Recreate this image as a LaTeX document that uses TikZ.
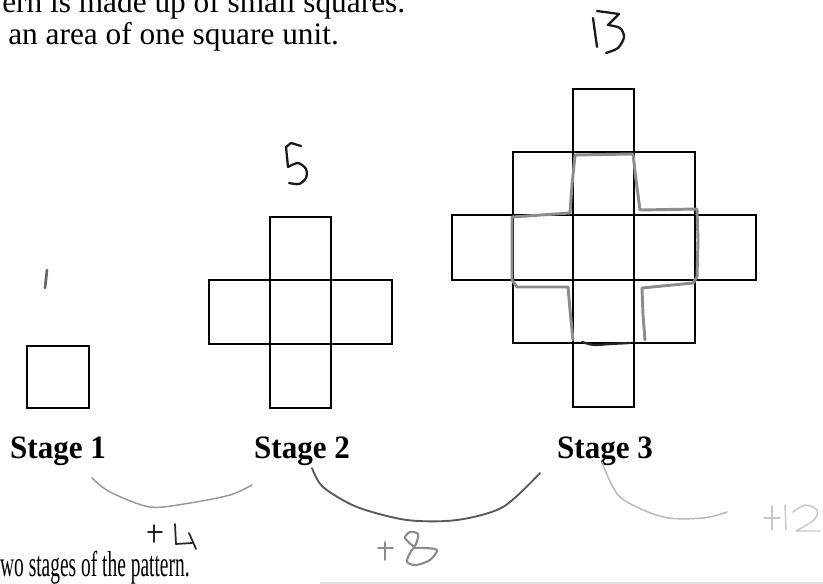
\documentclass[tikz,border=0pt]{standalone}
\usepackage{fontspec}
\setmainfont{Liberation Serif}
\begin{document}
\begin{tikzpicture}[x=0.75pt,y=-0.75pt,
  cell/.style={draw=black,line width=1.6pt},
  hand/.style={line width=1.7pt,line cap=round,line join=round},
  toptext/.style={anchor=base west,inner sep=0pt,font=\fontsize{23.5}{28}\selectfont},
  stagelbl/.style={anchor=base,inner sep=0pt,xscale=0.95,font=\fontsize{24.5}{28}\selectfont\bfseries},
  curveline/.style={line width=1.1pt,line cap=round}]
\useasboundingbox (0,0) rectangle (823,584);
\clip (0,0) rectangle (823,584);
% header text
\node[toptext] (t1) at (2,13) {ern is made up of small squares.};
\node[toptext] (t2) at (8,45) {an area of one square unit.};
\node[anchor=base west,inner sep=0pt,xscale=0.54,font=\fontsize{27}{30}\selectfont] (t3) at (0,576) {wo stages of the pattern.};
% stage 1
\draw[cell] (27,346) rectangle (89,408);
% stage 2
\draw[cell] (270,217) rectangle (331,280);
\draw[cell] (209,280) rectangle (270,344);
\draw[cell] (270,280) rectangle (331,344);
\draw[cell] (331,280) rectangle (392,344);
\draw[cell] (270,344) rectangle (331,408);
% stage 3
\draw[cell] (573,89) rectangle (634,152);
\foreach \a/\b in {513/573,573/634,634/695}{
  \draw[cell] (\a,152) rectangle (\b,215);
  \draw[cell] (\a,280) rectangle (\b,343);}
\foreach \a/\b in {452/513,513/573,573/634,634/695,695/756}{
  \draw[cell] (\a,215) rectangle (\b,280);}
\draw[cell] (573,343) rectangle (634,407);
% labels
\node[stagelbl] (s1) at (58,458) {Stage 1};
\node[stagelbl] (s2) at (302,458) {Stage 2};
\node[stagelbl] (s3) at (605,458) {Stage 3};
% gray contour on stage 3
\draw[hand,black!45,line width=2.2pt] (573,340) -- (570,310) -- (568,287) -- (517,287) -- (512,280) -- (512,217) -- (570,213) -- (572,185) -- (575,155) -- (633,154) -- (636,180) -- (640,210) -- (697,209) -- (698,240) -- (697,277) -- (693,283) -- (642,288) -- (643,315) -- (645,340);
\draw[hand,black!85] plot[smooth] coordinates {(582,342) (594,345) (610,344) (630,343)};
% handwritten numbers
\draw[hand,black!60,line width=2pt] (47,270) -- (45,288);
\draw[hand,black!90] (301,146) -- (291,143) -- (286,147) -- (288,167);
\draw[hand,black!90] plot[smooth] coordinates {(288,167) (298,163) (306,169) (306,178) (299,184) (289,183)};
\draw[hand,black!90] (593,18) -- (597,47);
\draw[hand,black!90] (597,11) -- (619,14) -- (608,25);
\draw[hand,black!90] plot[smooth] coordinates {(608,25) (620,28) (624,37) (618,48) (606,53)};
% curves
\draw[curveline,black!40] plot[smooth] coordinates {(92,478) (110,492) (150,507) (190,503) (230,495) (252,485)};
\draw[curveline,black!65,line width=1.4pt] plot[smooth] coordinates {(312,468) (323,487) (357,507) (407,520) (457,520) (503,507) (540,473)};
\draw[curveline,black!28] plot[smooth] coordinates {(602,462) (620,497) (663,517) (703,518) (727,512)};
% +4
\draw[hand,black!85,line width=1.3pt] (148,532) -- (162,532) (154,525) -- (154,542);
\draw[hand,black!85,line width=1.3pt] (175,524) -- (176,544) -- (192,543) (189,533) -- (196,549);
% +8
\draw[hand,black!45,line width=1.4pt] (378,548) -- (393,548) (385,542) -- (385,560);
\draw[hand,black!45,line width=1.6pt] plot[smooth] coordinates {(413,546) (405,538) (410,532) (418,534) (416,544) (410,553) (407,562) (416,565) (430,560) (437,550) (425,548) (414,548)};
% +12
\draw[hand,black!22,line width=1.1pt] (764,518) -- (780,518) (772,506) -- (772,530);
\draw[hand,black!22,line width=1.1pt] (785,505) -- (786,530);
\draw[hand,black!22,line width=1.1pt] plot[smooth] coordinates {(793,512) (805,505) (817,510) (814,520) (796,531)} -- (820,531);
% faint scan line
\draw[black!12,line width=0.8pt] (320,583) -- (823,583);
\end{tikzpicture}
\end{document}
